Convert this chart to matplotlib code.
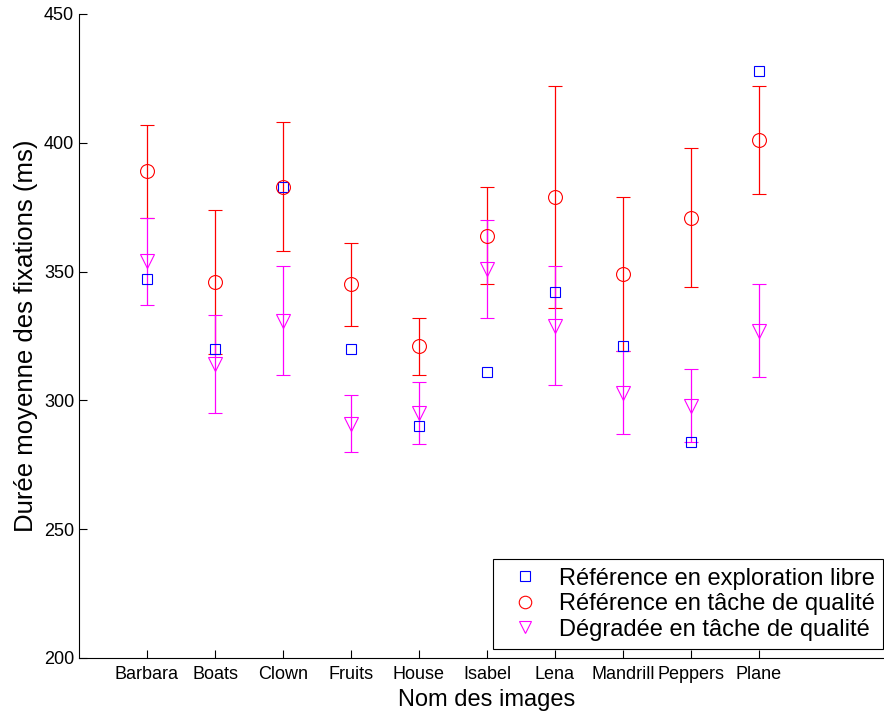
import matplotlib
matplotlib.use("Agg")
from matplotlib import pyplot as plt
from matplotlib.lines import Line2D

plt.rcParams['font.family'] = ['Liberation Sans', 'DejaVu Sans']

images = ['Barbara', 'Boats', 'Clown', 'Fruits', 'House', 'Isabel', 'Lena',
          'Mandrill', 'Peppers', 'Plane']
ref_libre = [347, 320, 383, 320, 290, 311, 342, 321, 284, 428]
ref_qualite = [389, 346, 383, 345, 321, 364, 379, 349, 371, 401]
ref_qualite_err = [18, 28, 25, 16, 11, 19, 43, 30, 27, 21]
deg_qualite = [354, 314, 331, 291, 295, 351, 329, 303, 298, 327]
deg_qualite_err = [17, 19, 21, 11, 12, 19, 23, 16, 14, 18]

x = list(range(1, len(images) + 1))

fig = plt.figure(figsize=(8.84, 7.13), dpi=100)
ax = fig.add_axes([79 / 884, 55 / 713, 816 / 884, 644 / 713])

# barres d'erreur en premier, les carrés par-dessus
ax.errorbar(x, ref_qualite, yerr=ref_qualite_err, fmt='o', color='red',
            mfc='none', mec='red', ms=10, mew=0.8, elinewidth=0.9,
            capsize=5, capthick=0.9)
ax.errorbar(x, deg_qualite, yerr=deg_qualite_err, fmt='v', color='magenta',
            mfc='none', mec='magenta', ms=10, mew=0.8, elinewidth=0.9,
            capsize=5, capthick=0.9)
ax.plot(x, ref_libre, 's', mfc='none', mec='blue', ms=7.5, mew=0.8,
        linestyle='none')

ax.set_xlim(0, 12)
ax.set_ylim(200, 450)
ax.set_xticks(x)
ax.set_xticklabels(images, fontsize=13)
ax.set_yticks([200, 250, 300, 350, 400, 450])
ax.tick_params(axis='y', labelsize=13, direction='in', length=6, width=0.8)
ax.tick_params(axis='x', direction='in', length=6, width=0.8, pad=6)
ax.spines['top'].set_visible(False)
ax.spines['right'].set_visible(False)
ax.spines['left'].set_linewidth(0.8)
ax.spines['bottom'].set_linewidth(0.8)

ax.set_xlabel('Nom des images', fontsize=17, labelpad=4)
ax.set_ylabel('Durée moyenne des fixations (ms)', fontsize=18.5, labelpad=4)

handles = [
    Line2D([], [], marker='s', mfc='none', mec='blue', ms=7, mew=0.8, linestyle='none'),
    Line2D([], [], marker='o', mfc='none', mec='red', ms=9, mew=0.8, linestyle='none'),
    Line2D([], [], marker='v', mfc='none', mec='magenta', ms=9, mew=0.8, linestyle='none'),
]
labels = ['Référence en exploration libre', 'Référence en tâche de qualité',
          'Dégradée en tâche de qualité']
leg = fig.legend(handles, labels, loc='lower right',
                 bbox_to_anchor=(883 / 884, (713 - 649) / 713),
                 fontsize=17, frameon=True, fancybox=False, edgecolor='black',
                 framealpha=1, handlelength=2.0, handletextpad=0.45,
                 borderpad=0.35, labelspacing=0.15, borderaxespad=0)
leg.get_frame().set_linewidth(0.8)

fig.savefig('out.png', dpi=100)
